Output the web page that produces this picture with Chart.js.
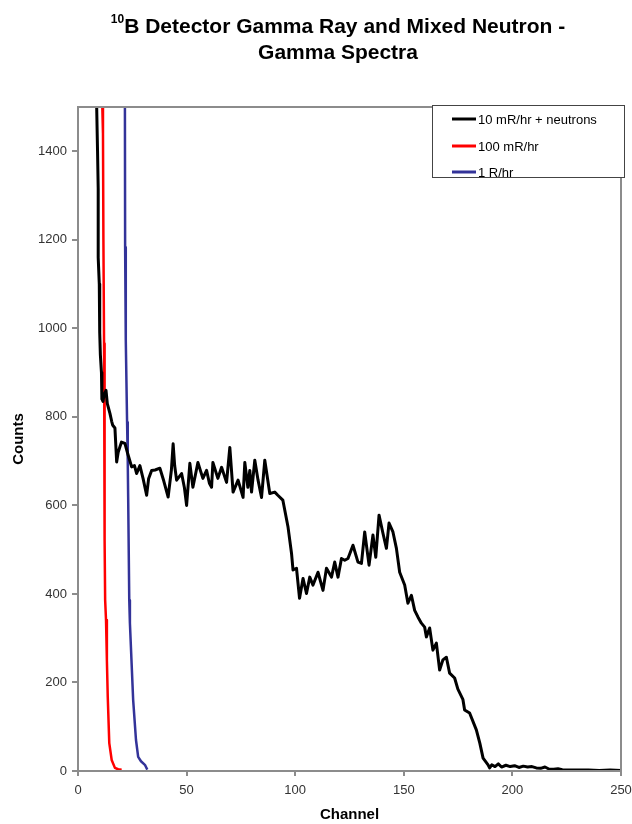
<!DOCTYPE html>
<html>
<head>
<meta charset="utf-8">
<script src="https://cdn.jsdelivr.net/npm/chart.js@4.4.1/dist/chart.umd.min.js"></script>
<style>
  html, body { margin: 0; padding: 0; background: #fff; }
  canvas { display: block; }
</style>
</head>
<body>
<canvas id="spectra-chart" width="632" height="824"></canvas>
<script>
// Spectra (channel, counts)
const blackChannels = [8.0, 8.6, 9.0, 9.3, 9.3, 9.8, 10.0, 10.3, 10.8, 11.0, 11.5, 12.0, 12.9, 13.5, 14.7, 15.5, 16.0, 17.0, 17.8, 18.5,
  20.0, 21.6, 23.0, 24.7, 26.0, 27.0, 28.5, 30.0, 31.6, 32.5, 33.9, 35.5, 37.7, 39.5, 41.5, 43.0, 43.8, 44.5, 45.4, 47.7,
  49.0, 50.0, 51.5, 52.9, 55.2, 57.5, 59.2, 60.5, 61.5, 62.1, 64.4, 66.1, 68.4, 69.9, 71.4, 73.7, 76.0, 76.8, 78.2, 79.1,
  79.9, 81.4, 82.9, 84.5, 86.0, 88.3, 90.6, 92.0, 94.3, 96.7, 98.3, 99.0, 100.6, 102.0, 103.6, 105.2, 106.7, 108.2, 110.5, 112.8,
  114.4, 116.7, 118.2, 119.7, 121.3, 122.8, 124.3, 126.6, 128.9, 130.5, 132.0, 134.0, 135.8, 137.1, 138.6, 140.4, 142.0, 143.2, 145.0, 146.6,
  148.1, 150.4, 151.9, 153.5, 155.0, 156.5, 158.1, 159.6, 160.4, 161.9, 163.4, 165.0, 166.5, 168.0, 169.6, 171.1, 173.4, 174.9, 177.2, 178.0,
  180.3, 183.4, 185.0, 186.5, 188.8, 189.5, 190.5, 192, 193.5, 195, 197, 199, 201, 203, 205, 207, 209, 211, 213, 215,
  217, 219, 221, 223, 225, 230, 235, 240, 245, 250];
const blackCounts = [2200, 1500, 1400, 1316, 1160, 1100, 990, 940, 900, 840, 835, 850, 860, 830, 808, 790, 781, 775, 698, 720,
  743, 740, 715, 687, 690, 672, 690, 660, 623, 660, 679, 680, 684, 655, 619, 680, 739, 690, 657, 672,
  640, 600, 695, 641, 697, 661, 679, 650, 641, 697, 661, 686, 652, 731, 630, 657, 618, 697, 641, 679,
  630, 702, 657, 618, 702, 627, 630, 623, 612, 551, 492, 454, 458, 390, 435, 401, 438, 420, 449, 408,
  458, 438, 472, 438, 480, 476, 480, 510, 472, 469, 540, 465, 533, 483, 578, 537, 503, 560, 540, 503,
  449, 420, 379, 397, 363, 348, 334, 325, 303, 323, 273, 289, 228, 251, 257, 221, 210, 185, 162, 138,
  131, 93, 63, 29, 14, 7, 14, 10, 16, 9, 13, 10, 12, 8, 11, 9, 10, 7, 6, 9,
  4, 4, 5, 3, 2, 2, 2, 1, 2, 1];

const redChannels = [10.8, 11.2, 11.5, 11.7, 12.0, 12.1, 12.4, 12.5, 12.9, 13.3, 13.7, 14.4, 15.5, 17.0, 18.5, 20.1];
const redCounts = [2200, 1500, 1440, 1200, 966, 740, 521, 386, 341, 250, 167, 63, 25, 7, 4, 3];

const blueChannels = [21.3, 21.6, 21.7, 22.0, 22.6, 22.9, 23.1, 23.6, 23.9, 25.4, 26.7, 27.7, 29.0, 30.8, 31.9];
const blueCounts = [2200, 1500, 1183, 973, 788, 702, 618, 386, 334, 160, 70, 32, 22, 14, 3];

const seriesLabels = ['10 mR/hr + neutrons', '100 mR/hr', '1 R/hr'];
const seriesColors = ['#000000', '#ff0000', '#333399'];
const xTicks = [0, 50, 100, 150, 200, 250];
const yTicks = [0, 200, 400, 600, 800, 1000, 1200, 1400];

function toPoints(xs, ys) {
    return xs.map((x, i) => ({ x: x, y: ys[i] }));
}

const FONT = "'Liberation Sans', Arial, Helvetica, sans-serif";
const AXIS_GRAY = '#8c8c8c';

// title with superscript, frame round the plot and the boxed legend
const decorations = {
    id: 'decorations',
    afterDatasetsDraw(chart) {
        const ctx = chart.ctx;
        const a = chart.chartArea;
        ctx.save();
        ctx.strokeStyle = AXIS_GRAY;
        ctx.lineWidth = 2;
        ctx.strokeRect(a.left, a.top, a.right - a.left, a.bottom - a.top);
        ctx.restore();
    },
    afterDraw(chart) {
        const ctx = chart.ctx;
        ctx.save();
        // title
        const cx = 338;
        ctx.fillStyle = '#000';
        ctx.textBaseline = 'alphabetic';
        ctx.font = 'bold 21px ' + FONT;
        const main = 'B Detector Gamma Ray and Mixed Neutron -';
        const wMain = ctx.measureText(main).width;
        ctx.font = 'bold 12px ' + FONT;
        const wSup = ctx.measureText('10').width;
        let x0 = cx - (wMain + wSup) / 2;
        ctx.textAlign = 'left';
        ctx.fillText('10', x0, 23);
        ctx.font = 'bold 21px ' + FONT;
        ctx.fillText(main, x0 + wSup, 33);
        ctx.textAlign = 'center';
        ctx.fillText('Gamma Spectra', cx, 59);

        // legend
        const lx = 432, ly = 105, lw = 192, lh = 72;
        ctx.fillStyle = '#fff';
        ctx.fillRect(lx, ly, lw, lh);
        ctx.strokeStyle = '#444';
        ctx.lineWidth = 1;
        ctx.strokeRect(lx + 0.5, ly + 0.5, lw, lh);
        ctx.font = '13px ' + FONT;
        ctx.textAlign = 'left';
        ctx.textBaseline = 'middle';
        const rows = [119, 146, 172];
        seriesLabels.forEach((label, i) => {
            ctx.strokeStyle = seriesColors[i];
            ctx.lineWidth = 3;
            ctx.beginPath();
            ctx.moveTo(452, rows[i]);
            ctx.lineTo(476, rows[i]);
            ctx.stroke();
            ctx.fillStyle = '#000';
            ctx.fillText(label, 478, rows[i] + 1);
        });
        ctx.restore();
    }
};

document.addEventListener('DOMContentLoaded', function() {
    const ctx = document.getElementById('spectra-chart').getContext('2d');
    new Chart(ctx, {
        type: 'line',
        data: {
            datasets: [
                { label: seriesLabels[0], data: toPoints(blackChannels, blackCounts), borderColor: seriesColors[0], borderWidth: 3 },
                { label: seriesLabels[1], data: toPoints(redChannels, redCounts), borderColor: seriesColors[1], borderWidth: 2.5 },
                { label: seriesLabels[2], data: toPoints(blueChannels, blueCounts), borderColor: seriesColors[2], borderWidth: 2.5 }
            ]
        },
        options: {
            responsive: false,
            animation: false,
            events: [],
            elements: {
                point: { radius: 0 },
                line: { tension: 0, fill: false, borderJoinStyle: 'round' }
            },
            layout: { padding: { top: 107, right: 11, left: 0, bottom: 0 } },
            plugins: {
                legend: { display: false },
                title: { display: false },
                tooltip: { enabled: false }
            },
            scales: {
                x: {
                    type: 'linear',
                    min: 0,
                    max: 250,
                    afterFit: s => { s.height = 53; s.paddingLeft = 0; s.paddingRight = 0; },
                    afterBuildTicks: s => { s.ticks = xTicks.map(v => ({ value: v })); },
                    grid: { drawOnChartArea: false, tickLength: 5, color: AXIS_GRAY, lineWidth: 2 },
                    border: { color: AXIS_GRAY, width: 2 },
                    ticks: { color: '#333', font: { family: FONT, size: 13 }, padding: 7, maxRotation: 0, callback: v => String(v) },
                    title: { display: true, text: 'Channel', color: '#000', font: { family: FONT, size: 15, weight: 'bold' }, padding: { top: 0, bottom: 0 } }
                },
                y: {
                    min: 0,
                    max: 1500,
                    afterFit: s => { s.width = 78; s.paddingTop = 0; s.paddingBottom = 0; },
                    afterBuildTicks: s => { s.ticks = yTicks.map(v => ({ value: v })); },
                    grid: { drawOnChartArea: false, tickLength: 6, color: AXIS_GRAY, lineWidth: 2 },
                    border: { color: AXIS_GRAY, width: 2 },
                    ticks: { color: '#333', font: { family: FONT, size: 13 }, padding: 5, callback: v => String(v) },
                    title: { display: true, text: 'Counts', color: '#000', font: { family: FONT, size: 15, weight: 'bold' }, padding: { top: 10, bottom: 0 } }
                }
            }
        },
        plugins: [decorations]
    });
});
</script>
</body>
</html>
